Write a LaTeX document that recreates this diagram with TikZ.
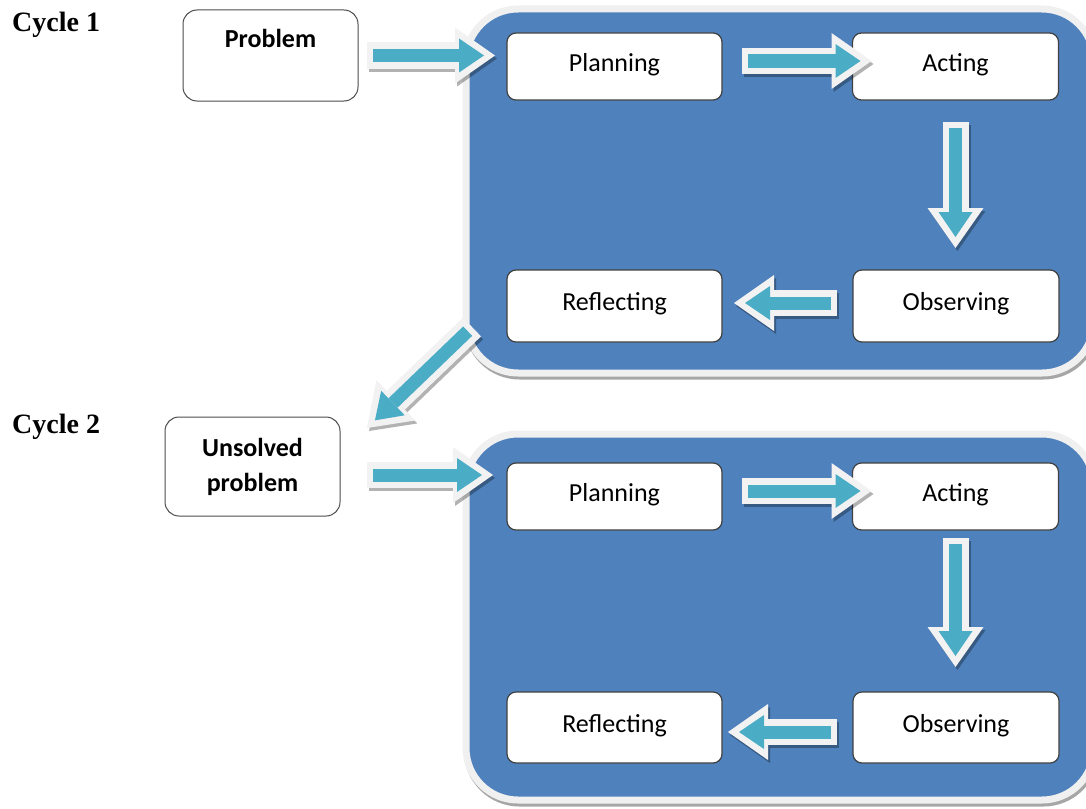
\documentclass[tikz,border=0pt]{standalone}
\usepackage{fontspec}
\setmainfont{Carlito}
\newfontfamily\cyclefont{Liberation Serif}
\usetikzlibrary{arrows.meta}
\definecolor{boxblue}{HTML}{4F81BD}
\definecolor{tealarr}{HTML}{4BACC6}
\definecolor{arrlight}{HTML}{F2F2F2}
\definecolor{bordlight}{HTML}{F0F0F0}
\definecolor{edgegray}{HTML}{404040}
\tikzset{
  bigbox/.style={draw=bordlight, line width=7pt, fill=boxblue, rounded corners=52pt,
    inner sep=0pt, outer sep=0pt,
    preaction={draw=black!35, line width=7pt, transform canvas={xshift=1.5pt,yshift=-3pt}}},
  stepbox/.style={draw=edgegray, line width=1.2pt, fill=white, rounded corners=9pt,
    inner sep=0pt, outer sep=0pt, text height=17pt, text depth=8pt,
    font=\fontsize{26}{31}\selectfont},
  startbox/.style={draw=gray!60!black, line width=1pt, fill=white, rounded corners=14pt,
    inner sep=0pt, outer sep=0pt, minimum width=175pt, align=center,
    font=\bfseries\fontsize{26}{35}\selectfont},
  cyclelabel/.style={anchor=base west, inner sep=0pt,
    font=\cyclefont\bfseries\fontsize{28}{34}\selectfont},
  arrouter/.style={line width=26pt, draw=arrlight,
    -{Triangle[width=56pt,length=40pt,line width=0pt]}},
  arrshadow/.style={line width=26pt, draw=black, opacity=.3,
    -{Triangle[width=56pt,length=40pt,line width=0pt]},
    transform canvas={xshift=2pt,yshift=-3pt}},
  arrinner/.style={line width=13pt, draw=tealarr,
    -{Triangle[width=34pt,length=25pt,line width=0pt]}}
}
\newcommand\barrow[3]{%
  \draw[arrshadow, shorten <={#1pt}, shorten >={#2pt}] #3;
  \draw[arrouter, shorten <={#1pt}, shorten >={#2pt}] #3;
  \draw[arrinner, shorten <={(#1+6)*1pt}, shorten >={(#2+11)*1pt}] #3;}
\begin{document}
\begin{tikzpicture}[x=1pt,y=-1pt]
\useasboundingbox (0,0) rectangle (1086,808);
% labels
\node[cyclelabel] (c1) at (12,32) {Cycle 1};
\node[cyclelabel] (c2) at (12,433) {Cycle 2};
% big boxes
\node[bigbox, minimum width=628pt, minimum height=364pt] (cyc1) at (780,191) {};
\node[bigbox, minimum width=628pt, minimum height=366pt] (cyc2) at (780,617) {};
% start boxes
\node[startbox, minimum height=91pt, text height=17pt, text depth=32pt] (problem) at (270.5,55.5) {Problem};
\node[startbox, minimum height=99pt] (unsolved) at (252.5,466.5) {Unsolved\\problem};
% cycle 1 steps
\node[stepbox, minimum width=215pt, minimum height=67pt] (P1) at (614.5,66.5) {Planning};
\node[stepbox, minimum width=206pt, minimum height=67pt] (A1) at (955.5,66.5) {Acting};
\node[stepbox, minimum width=215pt, minimum height=72pt] (R1) at (614.5,306) {Reflecting};
\node[stepbox, minimum width=206pt, minimum height=72pt] (O1) at (956,306) {Observing};
% cycle 2 steps
\node[stepbox, minimum width=215pt, minimum height=67pt] (P2) at (614.5,496.5) {Planning};
\node[stepbox, minimum width=206pt, minimum height=67pt] (A2) at (955.5,496.5) {Acting};
\node[stepbox, minimum width=215pt, minimum height=71pt] (R2) at (614.5,727.5) {Reflecting};
\node[stepbox, minimum width=206pt, minimum height=71pt] (O2) at (956,727.5) {Observing};
% arrows cycle 1
\barrow{9}{12}{(problem.east) -- (problem.east -| P1.west)}
\barrow{20}{-19}{([yshift=5.5pt]P1.east) -- ([yshift=5.5pt]P1.east -| A1.west)}
\barrow{22}{22}{(A1.south) -- (A1.south |- O1.north)}
\barrow{16}{12}{([yshift=3pt]O1.west) -- ([yshift=3pt]O1.west -| R1.east)}
% link
\barrow{0}{0}{([xshift=6pt,yshift=46pt]cyc1.south west) -- ([xshift=27pt,yshift=-11pt]unsolved.north east)}
% arrows cycle 2
\barrow{27}{14}{([yshift=-8.5pt]unsolved.east) -- ([yshift=-8.5pt]unsolved.east -| P2.west)}
\barrow{20}{-19}{([yshift=5.5pt]P2.east) -- ([yshift=5.5pt]P2.east -| A2.west)}
\barrow{8}{25}{(A2.south) -- (A2.south |- O2.north)}
\barrow{16}{6}{([yshift=-4.5pt]O2.west) -- ([yshift=-4.5pt]O2.west -| R2.east)}
\end{tikzpicture}
\end{document}
